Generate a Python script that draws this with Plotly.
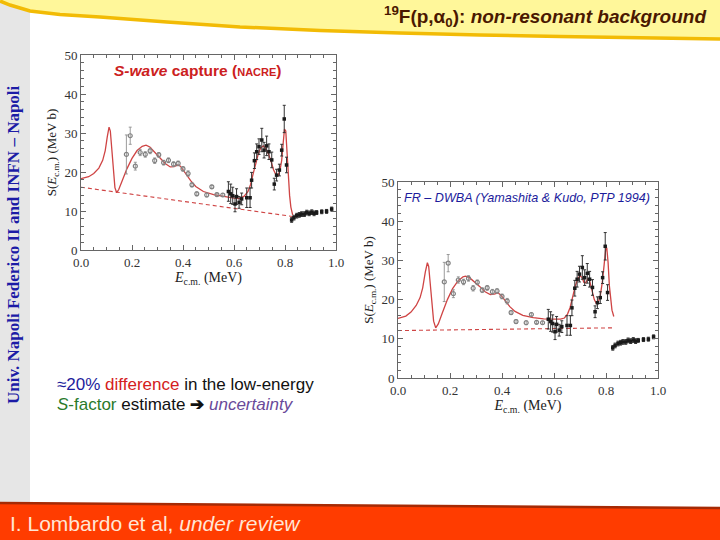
import plotly.graph_objects as go

# ---------------- data ----------------
grey_e = [0.178, 0.193, 0.213, 0.232, 0.252, 0.271, 0.289, 0.305, 0.324, 0.343,
          0.363, 0.381, 0.400, 0.420, 0.435, 0.454, 0.493, 0.513, 0.533, 0.556]
grey_s = [24.5, 29.3, 21.5, 25.0, 24.5, 25.4, 22.9, 24.4, 22.4, 23.0,
          22.0, 22.2, 20.8, 19.6, 16.7, 14.4, 14.1, 16.2, 14.2, 14.1]
grey_err = [5.0, 2.2, 1.0, 0.8, 0.7, 0.7, 0.7, 0.6, 0.6, 0.6,
            0.6, 0.6, 0.6, 0.7, 0.5, 0.5, 0.5, 0.4, 0.4, 0.4]

black_e = [0.578, 0.587, 0.595, 0.604, 0.610, 0.620, 0.630, 0.650, 0.663, 0.669,
           0.680, 0.689, 0.698, 0.709, 0.718, 0.728, 0.737, 0.748, 0.758, 0.767,
           0.778, 0.787, 0.797, 0.806, 0.826, 0.835, 0.846, 0.856, 0.865, 0.876,
           0.885, 0.895, 0.905, 0.914, 0.924, 0.944, 0.963, 0.983]
black_s = [15.0, 14.4, 13.9, 11.8, 13.7, 12.2, 13.1, 13.4, 13.4, 17.9,
           22.9, 25.2, 26.5, 28.2, 25.6, 26.7, 25.2, 23.1, 16.9, 19.2,
           20.5, 25.6, 33.6, 21.8, 7.7, 8.3, 8.8, 9.0, 9.2, 9.2,
           9.6, 9.4, 9.7, 9.4, 9.6, 9.8, 9.9, 10.5]
black_err = [2.5, 2.5, 2.2, 2.0, 2.0, 1.5, 1.5, 2.5, 2.5, 2.0,
             2.0, 2.0, 2.0, 3.0, 2.0, 2.5, 2.0, 2.0, 1.5, 1.5,
             1.5, 1.5, 3.5, 2.0, 0.6, 0.6, 0.6, 0.6, 0.6, 0.6,
             0.6, 0.6, 0.6, 0.6, 0.5, 0.5, 0.5, 0.5]

nacre_e = [0.0, 0.03, 0.05, 0.07, 0.085, 0.095, 0.103, 0.11, 0.115, 0.12,
           0.127, 0.133, 0.14, 0.148, 0.16, 0.18, 0.2, 0.22, 0.24, 0.255,
           0.27, 0.29, 0.31, 0.33, 0.35, 0.365, 0.38, 0.39, 0.41, 0.43,
           0.45, 0.48, 0.52, 0.56, 0.60, 0.62, 0.64, 0.655, 0.665, 0.675,
           0.685, 0.695, 0.705, 0.715, 0.725, 0.735, 0.745, 0.755, 0.765, 0.772,
           0.78, 0.787, 0.793, 0.798, 0.803, 0.808, 0.813, 0.818, 0.823, 0.83]
nacre_s = [18.3, 18.8, 19.6, 21.0, 23.0, 25.5, 29.0, 31.5, 30.5, 26.0,
           20.0, 16.0, 14.7, 15.5, 17.5, 20.8, 23.5, 25.5, 26.6, 26.9,
           26.4, 25.1, 23.6, 22.2, 21.3, 21.4, 21.8, 21.5, 19.6, 17.8,
           16.3, 15.0, 14.2, 13.7, 13.3, 13.2, 13.8, 15.0, 16.8, 19.5,
           22.3, 24.6, 26.2, 26.7, 26.0, 24.7, 22.8, 20.6, 19.2, 19.0,
           20.3, 23.0, 27.5, 31.0, 30.5, 26.0, 19.5, 14.0, 11.0, 9.0]
nacre_bg_e = [0.0, 0.83]
nacre_bg_s = [16.1, 8.6]

dwba_e = [0.0, 0.03, 0.05, 0.07, 0.085, 0.095, 0.105, 0.113, 0.118, 0.123,
          0.13, 0.137, 0.145, 0.155, 0.17, 0.19, 0.21, 0.23, 0.25, 0.26,
          0.275, 0.295, 0.315, 0.335, 0.355, 0.37, 0.385, 0.395, 0.41, 0.43,
          0.45, 0.48, 0.52, 0.56, 0.60, 0.625, 0.64, 0.652, 0.662, 0.672,
          0.682, 0.692, 0.70, 0.708, 0.715, 0.722, 0.73, 0.737, 0.745, 0.755,
          0.763, 0.77, 0.778, 0.786, 0.793, 0.799, 0.803, 0.808, 0.813, 0.818,
          0.823, 0.83]
dwba_s = [15.2, 15.8, 16.8, 18.5, 20.5, 23.0, 27.0, 29.4, 28.5, 24.5,
          19.0, 14.5, 12.8, 13.8, 16.5, 20.0, 22.8, 24.7, 25.8, 26.0,
          25.6, 24.5, 23.3, 22.0, 21.3, 21.4, 21.7, 21.2, 19.8, 18.2,
          17.0, 16.0, 15.4, 15.1, 15.0, 15.0, 15.3, 16.3, 18.0, 20.8,
          23.5, 25.4, 26.1, 25.6, 24.4, 24.3, 25.3, 24.8, 22.5, 20.0,
          19.0, 19.3, 21.0, 24.5, 29.0, 33.0, 33.2, 29.5, 23.5, 19.5,
          17.3, 15.7]
dwba_bg_e = [0.0, 0.83]
dwba_bg_s = [12.1, 12.8]

x_ticks = [0.0, 0.2, 0.4, 0.6, 0.8, 1.0]
y_ticks = [0, 10, 20, 30, 40, 50]

# ---------------- figure ----------------
W, H = 720, 540
def px(x):
    return x / W
def py(y):
    return 1 - y / H

fig = go.Figure()

CURVE = "#cf4444"
for xa, ya, ce, cs, be, bs in [("x", "y", nacre_e, nacre_s, nacre_bg_e, nacre_bg_s),
                               ("x2", "y2", dwba_e, dwba_s, dwba_bg_e, dwba_bg_s)]:
    fig.add_trace(go.Scatter(x=be, y=bs, mode="lines", xaxis=xa, yaxis=ya,
                             line=dict(color=CURVE, width=1.1, dash="4px,3px"),
                             showlegend=False, hoverinfo="skip"))
    fig.add_trace(go.Scatter(x=ce, y=cs, mode="lines", xaxis=xa, yaxis=ya,
                             line=dict(color=CURVE, width=1.3),
                             showlegend=False))
    fig.add_trace(go.Scatter(x=grey_e, y=grey_s, mode="markers", xaxis=xa, yaxis=ya,
                             marker=dict(symbol="circle-open", size=4, color="#808080",
                                         line=dict(width=1.2, color="#808080")),
                             error_y=dict(type="data", array=grey_err, thickness=0.9,
                                          width=1.5, color="#909090"),
                             showlegend=False))
    fig.add_trace(go.Scatter(x=black_e, y=black_s, mode="markers", xaxis=xa, yaxis=ya,
                             marker=dict(symbol="square", size=3.5, color="#1a1a1a"),
                             error_y=dict(type="data", array=black_err, thickness=1.0,
                                          width=1.5, color="#333333"),
                             showlegend=False))

serif = "Liberation Serif, Times New Roman, serif"
axis_common = dict(showgrid=False, zeroline=False, showline=True, mirror="allticks",
                   linecolor="#666666", linewidth=1, ticks="inside", tickcolor="#666666",
                   ticklen=5, tickwidth=1, automargin=False,
                   tickfont=dict(family=serif, size=13, color="#333333"))

xcommon = dict(axis_common, range=[0, 1], tickvals=x_ticks,
               ticktext=[f"{v:.1f}" for v in x_ticks],
               minor=dict(dtick=0.05, tick0=0, ticks="inside", ticklen=3,
                          tickcolor="#666666"),
               title=dict(text="<i>E</i><sub>c.m.</sub> (MeV)", standoff=3,
                          font=dict(family=serif, size=14, color="#222222")))
ycommon = dict(axis_common, range=[0, 50], tickvals=y_ticks,
               minor=dict(dtick=2, tick0=0, ticks="inside", ticklen=3,
                          tickcolor="#666666"),
               title=dict(text="S(<i>E</i><sub>c.m.</sub>) (MeV b)", standoff=4,
                          font=dict(family=serif, size=13, color="#222222")))

fig.update_layout(
    width=W, height=H, autosize=False,
    margin=dict(l=0, r=0, t=0, b=0),
    paper_bgcolor="white", plot_bgcolor="white",
    xaxis=dict(xcommon, domain=[px(81), px(336)], anchor="y"),
    yaxis=dict(ycommon, domain=[py(250), py(55)], anchor="x"),
    xaxis2=dict(xcommon, domain=[px(398), px(658)], anchor="y2"),
    yaxis2=dict(ycommon, domain=[py(378), py(182)], anchor="x2"),
)

# ---------------- decorations ----------------
banner_pts = [(0, 1), (10, 5), (30, 11), (60, 14.5), (100, 17), (167, 22), (240, 27),
              (320, 30.5), (400, 33), (480, 35), (560, 36.5), (640, 37.8), (720, 39)]
curve_path = " ".join(("M" if i == 0 else "L") + f" {px(x):.5f},{py(y):.5f}"
                      for i, (x, y) in enumerate(banner_pts))
fill_path = f"M 0,1 L 1,1 " + " ".join(f"L {px(x):.5f},{py(y):.5f}"
                                       for (x, y) in reversed(banner_pts)) + " Z"

shapes = [
    dict(type="rect", xref="paper", yref="paper", x0=0, x1=px(30), y0=0, y1=1,
         fillcolor="#e6e6e6", line=dict(width=0), layer="below"),
    dict(type="path", xref="paper", yref="paper", path=fill_path,
         fillcolor="#fff79a", line=dict(width=0), layer="below"),
    dict(type="path", xref="paper", yref="paper", path=curve_path,
         line=dict(color="#f2bb05", width=3.5), layer="below"),
    dict(type="path", xref="paper", yref="paper",
         path=f"M 0,{py(503)} L 1,{py(508)} L 1,0 L 0,0 Z",
         fillcolor="#ff3c00", line=dict(width=0), layer="below"),
    dict(type="line", xref="paper", yref="paper", x0=0, y0=py(503), x1=1, y1=py(508),
         line=dict(color="#a52a05", width=2.5), layer="below"),
]
fig.update_layout(shapes=shapes)

sans = "Liberation Sans, Arial, sans-serif"
annotations = [
    dict(text="<b><sup>19</sup>F(p,\u03b1<sub>0</sub>): <i>non-resonant background</i></b>",
         x=px(708), y=py(17), xanchor="right", yanchor="middle",
         font=dict(family=sans, size=19, color="#4a1800")),
    dict(text="<b><i>S-wave</i> capture (<span style='font-size:11px'>NACRE</span>)</b>",
         x=px(112), y=py(70), xanchor="left", yanchor="middle",
         font=dict(family=sans, size=15.5, color="#cc2020")),
    dict(text="<i>FR \u2013 DWBA (Yamashita &amp; Kudo, PTP 1994)</i>",
         x=px(402), y=py(198), xanchor="left", yanchor="middle",
         font=dict(family=sans, size=12.6, color="#1c1c9c")),
    dict(text="<span style='color:#1c1c9c'>\u224820%</span> "
              "<span style='color:#d42020'>difference</span> in the low-energy",
         x=px(55), y=py(385), xanchor="left", yanchor="middle",
         font=dict(family=sans, size=17, color="#111111")),
    dict(text="<span style='color:#2a7a2a'><i>S</i>-factor</span> estimate "
              "<b>\u2794</b> <span style='color:#6a4a9a'><i>uncertainty</i></span>",
         x=px(55), y=py(404), xanchor="left", yanchor="middle",
         font=dict(family=sans, size=17, color="#111111")),
    dict(text="I. Lombardo et al, <i>under review</i>",
         x=px(8), y=py(523), xanchor="left", yanchor="middle",
         font=dict(family=sans, size=21, color="#ffe6d6")),
    dict(text="<b>Univ. Napoli Federico II and INFN \u2013 Napoli</b>",
         x=px(13), y=py(245), xanchor="center", yanchor="middle", textangle=-90,
         font=dict(family=serif, size=17, color="#1c1ca6")),
]
for a in annotations:
    a.update(xref="paper", yref="paper", showarrow=False)
fig.update_layout(annotations=annotations)

fig.write_html("out.html",
               config={"displayModeBar": False},
               post_script="document.body.style.margin='0';"
                           "document.body.style.overflow='hidden';")
